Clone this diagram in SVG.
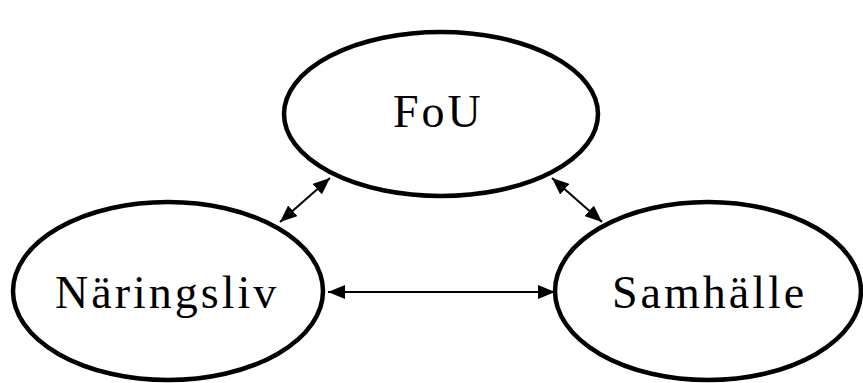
<svg xmlns="http://www.w3.org/2000/svg" width="863" height="383" viewBox="0 0 863 383">
<style>
.node ellipse{fill:#fff;stroke:#000;stroke-width:4.5}
.node text{font-family:"Liberation Serif","Times New Roman",serif;font-size:46px;letter-spacing:3px;fill:#000}
.conn line{stroke:#000;stroke-width:2}
</style>
<defs>
<marker id="ah" viewBox="0 0 17 14" refX="17" refY="7" markerWidth="17" markerHeight="14" markerUnits="userSpaceOnUse" orient="auto-start-reverse">
<path d="M0,0 L17,7 L0,14 Z" fill="#000"/>
</marker>
</defs>
<rect width="863" height="383" fill="#fff"/>
<g id="fou" class="node">
<ellipse cx="441" cy="114" rx="157" ry="82"/>
<text x="393" y="127">FoU</text>
</g>
<g id="naringsliv" class="node">
<ellipse cx="168" cy="291" rx="155" ry="89"/>
<text x="55" y="308">Näringsliv</text>
</g>
<g id="samhalle" class="node">
<ellipse cx="708" cy="291" rx="153" ry="89"/>
<text x="612" y="308">Samhälle</text>
</g>
<g id="connectors" class="conn">
<line x1="280" y1="222" x2="330" y2="178" marker-start="url(#ah)" marker-end="url(#ah)"/>
<line x1="602" y1="222" x2="552" y2="178" marker-start="url(#ah)" marker-end="url(#ah)"/>
<line x1="328" y1="292" x2="555" y2="292" marker-start="url(#ah)" marker-end="url(#ah)"/>
</g>
</svg>
